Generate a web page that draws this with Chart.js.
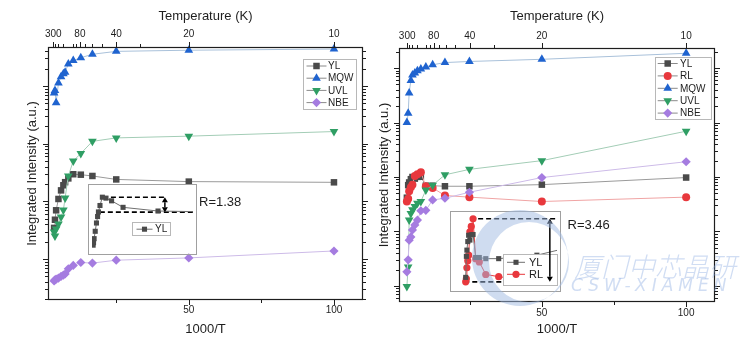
<!DOCTYPE html>
<html>
<head>
<meta charset="utf-8">
<title>Integrated PL intensity vs 1000/T</title>
<script src="https://cdn.jsdelivr.net/npm/chart.js@4.4.1/dist/chart.umd.min.js"></script>
<style>
  html, body { margin: 0; padding: 0; background: #fff; }
  #stage { position: relative; width: 752px; height: 349px; overflow: hidden; }
  #stage canvas { position: absolute; }
  .wm { position: absolute; color: rgba(150, 180, 228, 0.45); white-space: nowrap; pointer-events: none; line-height: 1; }
  #wmCn { left: 574px; top: 246px; font: italic 300 27px "Noto Sans CJK SC"; }
  #wmEn { left: 571px; top: 275px; font: italic 300 17px "DejaVu Sans"; letter-spacing: 5px; }
</style>
</head>
<body>
<div id="stage">
  <canvas id="panelA" width="376" height="349" style="left:0;top:0"></canvas>
  <canvas id="panelB" width="376" height="349" style="left:376px;top:0"></canvas>
  <canvas id="insetA" width="109" height="71" style="left:88px;top:184px"></canvas>
  <canvas id="insetB" width="111" height="81" style="left:450px;top:211px"></canvas>
  <canvas id="logo" width="752" height="349" style="left:0;top:0;pointer-events:none"></canvas>
  <div class="wm" id="wmCn">厦门中芯晶研</div>
  <div class="wm" id="wmEn">CSW-XIAMEN</div>
</div>
<script>
/***********************
 * DATA
 ***********************/
// sample A: 1000/T of each measurement
const invTA = [3.6, 3.9, 4.3, 5.1, 6.0, 6.8, 7.4, 8.5, 10.2, 12.8, 16.8, 25, 50, 100];
const ylA  = [347, 480, 700, 1100, 1550, 1900, 2150, 2500, 2951, 2900, 2754, 2400, 2200, 2138];
const mqwA = [75900, 83200, 51300, 112200, 144500, 162200, 173800, 239900, 275400, 309000, 354800, 398100, 416900, 436500];
const uvlA = [295, 251, 331, 407, 537, 708, 1148, 2754, 5012, 6761, 10965, 12589, 13490, 16218];
const nbeA = [41.7, 43.7, 44.7, 46.8, 50.1, 52.5, 55.0, 67.6, 77.6, 87.1, 85.1, 95.5, 104.7, 138];

// sample B
const invTB = [3.23, 3.68, 4.02, 4.61, 5.16, 5.99, 6.89, 8.07, 9.8, 12.16, 16.42, 24.9, 50, 100];
const ylB  = [417, 708, 794, 912, 1000, 933, 1005, 1010, 692, 692, 676, 676, 724, 977];
const rlB  = [356, 398, 550, 646, 724, 1047, 1122, 1228, 676, 631, 457, 427, 355, 427];
const mqwB = [10000, 14800, 34700, 58900, 74100, 81300, 89100, 95500, 104700, 114800, 125900, 131800, 144500, 186200];
const uvlB = [9.8, 22.4, 162, 214, 251, 288, 331, 355, 575, 708, 1096, 1380, 1995, 6918];
const nbeB = [18.2, 30.2, 69.2, 79.4, 107, 132, 162, 240, 245, 380, 407, 525, 977, 1905];

// axis ticks
const X_MAJOR = [50, 100];
const X_MINOR = [25, 75];
const TEMP_MAJOR = [300, 80, 40, 20, 10];
const TEMP_MINOR = [250, 200, 150, 100, 90, 70, 60, 50, 30];

/***********************
 * STYLE
 ***********************/
const FONT = '"Liberation Sans", Arial, sans-serif';
const INK = '#1e1e1e';
const COL = {
  yl:  { dot: '#4a4a4a', line: '#9a9a9a' },
  rl:  { dot: '#e8383d', line: '#f0a4a4' },
  mqw: { dot: '#1f63cf', line: '#a9c1da' },
  uvl: { dot: '#2f9e64', line: '#a3cdb6' },
  nbe: { dot: '#a57ce0', line: '#cdbbe8' },
};
Chart.defaults.font.family = FONT;
const drawPoint = Chart.helpers.drawPoint;

/***********************
 * Helpers
 ***********************/
function pts(xs, ys) {
  return xs.map((x, i) => ({ x, y: ys[i] }));
}

function series(label, xs, ys, c, style, r, rot) {
  return {
    label,
    data: pts(xs, ys),
    showLine: true,
    borderColor: c.line,
    borderWidth: 1,
    backgroundColor: c.dot,
    pointBackgroundColor: c.dot,
    pointBorderColor: c.dot,
    pointBorderWidth: 0,
    pointStyle: style,
    pointRadius: r,
    pointRotation: rot || 0,
    clip: false,
  };
}

function dashLine(x0, x1, y) {
  return {
    data: [{ x: x0, y }, { x: x1, y }],
    showLine: true,
    borderColor: '#000',
    borderWidth: 1.6,
    borderDash: [5, 3],
    pointRadius: 0,
    noLegend: true,
  };
}

function doubleArrow(ctx, x, y1, y2) {
  const h = 5, w = 3;
  ctx.beginPath();
  ctx.moveTo(x, y1 + h); ctx.lineTo(x, y2 - h);
  ctx.stroke();
  ctx.beginPath();
  ctx.moveTo(x, y1); ctx.lineTo(x - w, y1 + h); ctx.lineTo(x + w, y1 + h); ctx.closePath();
  ctx.moveTo(x, y2); ctx.lineTo(x - w, y2 - h); ctx.lineTo(x + w, y2 - h); ctx.closePath();
  ctx.fill();
}

/***********************
 * Plugins
 ***********************/
// frame + outward tick marks on all four sides
const frameTicks = {
  id: 'frameTicks',
  afterDraw(chart) {
    const { ctx, chartArea: a, scales } = chart;
    const xs = scales.x, ys = scales.y;
    ctx.save();
    ctx.strokeStyle = INK;
    ctx.lineWidth = 1.2;
    ctx.strokeRect(a.left + 0.5, a.top + 0.5, a.right - a.left - 1, a.bottom - a.top - 1);
    ctx.lineWidth = 1;
    ctx.beginPath();
    const lo = Math.floor(Math.log10(ys.min)), hi = Math.ceil(Math.log10(ys.max));
    for (let e = lo; e <= hi; e++) {
      for (let m = 1; m < 10; m++) {
        const v = m * Math.pow(10, e);
        if (v < ys.min || v > ys.max) continue;
        const py = Math.round(ys.getPixelForValue(v)) + 0.5;
        const len = m === 1 ? 5 : 3;
        ctx.moveTo(a.left - len, py); ctx.lineTo(a.left, py);
        ctx.moveTo(a.right, py); ctx.lineTo(a.right + len, py);
      }
    }
    const vx = (v, len) => {
      const px = Math.round(xs.getPixelForValue(v)) + 0.5;
      ctx.moveTo(px, a.bottom); ctx.lineTo(px, a.bottom + len);
    };
    X_MAJOR.forEach((v) => vx(v, 5));
    X_MINOR.forEach((v) => vx(v, 3));
    const tx = (t, len) => {
      const px = Math.round(xs.getPixelForValue(1000 / t)) + 0.5;
      ctx.moveTo(px, a.top); ctx.lineTo(px, a.top - len);
    };
    TEMP_MAJOR.forEach((t) => tx(t, 5));
    TEMP_MINOR.forEach((t) => tx(t, 3));
    ctx.stroke();
    ctx.restore();
  },
};

// boxed legend placed inside the plot
const boxLegend = {
  id: 'boxLegend',
  afterDraw(chart, args, o) {
    if (!o || !o.box) return;
    const ctx = chart.ctx;
    const [x0, y0, w, h] = o.box;
    ctx.save();
    ctx.fillStyle = '#fff';
    ctx.fillRect(x0, y0, w, h);
    ctx.strokeStyle = '#b8b8b8';
    ctx.lineWidth = 1;
    ctx.strokeRect(x0 + 0.5, y0 + 0.5, w, h);
    ctx.font = o.font;
    ctx.textBaseline = 'middle';
    let row = 0;
    chart.data.datasets.forEach((ds) => {
      if (ds.noLegend) return;
      const y = o.y0 + row * o.dy;
      ctx.strokeStyle = o.lineColor || ds.borderColor;
      ctx.lineWidth = 1;
      ctx.beginPath();
      ctx.moveTo(o.mx - o.half, y); ctx.lineTo(o.mx + o.half, y);
      ctx.stroke();
      ctx.fillStyle = ds.pointBackgroundColor;
      ctx.strokeStyle = ds.pointBorderColor;
      drawPoint(ctx, { pointStyle: ds.pointStyle, radius: o.r || ds.pointRadius, rotation: ds.pointRotation, borderWidth: 0 }, o.mx, y);
      ctx.fillStyle = INK;
      ctx.fillText(ds.label, o.tx, y + 0.5);
      row++;
    });
    ctx.restore();
  },
};

// ratio label next to the inset
const note = {
  id: 'note',
  afterDraw(chart, args, o) {
    if (!o || !o.text) return;
    const ctx = chart.ctx;
    ctx.save();
    ctx.font = '13px ' + FONT;
    ctx.fillStyle = INK;
    ctx.textBaseline = 'middle';
    ctx.fillText(o.text, o.x, o.y);
    ctx.restore();
  },
};

// inset frame and double arrow between the dashed levels
const insetDeco = {
  id: 'insetDeco',
  afterDraw(chart, args, o) {
    const { ctx, scales } = chart;
    const w = chart.width, h = chart.height;
    ctx.save();
    ctx.strokeStyle = '#a0a0a0';
    ctx.lineWidth = 1;
    ctx.strokeRect(0.5, 0.5, w - 1, h - 1);
    ctx.strokeStyle = '#000';
    ctx.fillStyle = '#000';
    ctx.lineWidth = 1.5;
    const x = scales.x.getPixelForValue(o.arrowX);
    doubleArrow(ctx, x, scales.y.getPixelForValue(o.hi), scales.y.getPixelForValue(o.lo));
    ctx.restore();
  },
};

/***********************
 * Main panels
 ***********************/
function mainChart(id, datasets, cfg) {
  const xBase = {
    type: 'linear', min: cfg.xMin, max: 110,
    grid: { display: false }, border: { display: false },
  };
  return new Chart(document.getElementById(id), {
    type: 'scatter',
    data: { datasets },
    plugins: [frameTicks, boxLegend, note],
    options: {
      responsive: false,
      animation: false,
      events: [],
      layout: { padding: { right: cfg.padRight } },
      plugins: {
        legend: { display: false },
        tooltip: { enabled: false },
        boxLegend: cfg.legend,
        note: cfg.note,
      },
      scales: {
        x: {
          ...xBase, position: 'bottom',
          afterBuildTicks: (s) => { s.ticks = X_MAJOR.map((v) => ({ value: v })); },
          afterFit: (s) => { s.height = cfg.bottomH; },
          ticks: { autoSkip: false, maxRotation: 0, padding: cfg.bottomPad, color: INK, font: { size: 10 } },
          title: { display: true, text: '1000/T', color: INK, font: { size: 13 }, padding: { top: 0, bottom: 12 } },
        },
        xT: {
          ...xBase, position: 'top',
          afterBuildTicks: (s) => { s.ticks = TEMP_MAJOR.map((t) => ({ value: 1000 / t })); },
          afterFit: (s) => { s.height = cfg.topH; },
          ticks: {
            autoSkip: false, maxRotation: 0, padding: cfg.topPad, color: INK, font: { size: 10 },
            callback: (v) => String(Math.round(1000 / v)),
          },
          title: { display: true, text: 'Temperature (K)', color: INK, font: { size: 13 }, padding: { top: 9, bottom: 0 } },
        },
        y: {
          type: 'logarithmic', position: 'left', min: cfg.yMin, max: cfg.yMax,
          grid: { display: false }, border: { display: false },
          ticks: { display: false },
          afterFit: (s) => { s.width = cfg.leftW; },
          title: { display: true, text: 'Integrated Intensity (a.u.)', color: INK, font: { size: 13 }, padding: { top: cfg.yTitlePad, bottom: 0 } },
        },
      },
    },
  });
}

// later series drawn on top
function stackOrder(list) {
  list.forEach((d, i) => { d.order = list.length - i; });
  return list;
}

const peakA = Math.max(...ylA);
const endA = ylA[ylA.length - 1];
const peakB = Math.max(...rlB);
const lowB = Math.min(...rlB);

mainChart('panelA', stackOrder([
  series('YL', invTA, ylA, COL.yl, 'rect', 4.6),
  series('MQW', invTA, mqwA, COL.mqw, 'triangle', 5),
  series('UVL', invTA, uvlA, COL.uvl, 'triangle', 5, 180),
  series('NBE', invTA, nbeA, COL.nbe, 'rectRot', 4.6),
]), {
  xMin: 1.5, yMin: 19.5, yMax: 4.74e5,
  padRight: 13, bottomH: 49, topH: 47, topPad: -1, bottomPad: -4, leftW: 48, yTitlePad: 25,
  legend: { box: [303, 59, 53, 50], y0: 66, dy: 12.2, mx: 316.5, half: 10, tx: 328, font: '10px ' + FONT, lineColor: '#8a8a8a' },
  note: { text: 'R=' + (peakA / endA).toFixed(2), x: 199, y: 202.5 },
});

mainChart('panelB', stackOrder([
  series('YL', invTB, ylB, COL.yl, 'rect', 4.6),
  series('RL', invTB, rlB, COL.rl, 'circle', 4),
  series('MQW', invTB, mqwB, COL.mqw, 'triangle', 5),
  series('UVL', invTB, uvlB, COL.uvl, 'triangle', 5, 180),
  series('NBE', invTB, nbeB, COL.nbe, 'rectRot', 4.6),
]), {
  xMin: 0.5, yMin: 5.08, yMax: 2.33e5,
  padRight: 37, bottomH: 47, topH: 48, topPad: -2, bottomPad: -3, leftW: 23, yTitlePad: 1,
  legend: { box: [279, 57, 56, 62], y0: 63.5, dy: 12.4, mx: 291.7, half: 10, tx: 304, font: '10px ' + FONT, lineColor: '#8a8a8a' },
  note: { text: 'R=' + (peakB / lowB).toFixed(2), x: 191.5, y: 225 },
});

/***********************
 * Insets (linear intensity, zoom on the low-T region)
 ***********************/
function insetChart(id, datasets, cfg) {
  return new Chart(document.getElementById(id), {
    type: 'scatter',
    data: { datasets },
    plugins: [boxLegend, insetDeco],
    options: {
      responsive: false,
      animation: false,
      events: [],
      layout: { padding: 0 },
      plugins: {
        legend: { display: false },
        tooltip: { enabled: false },
        boxLegend: cfg.legend,
        insetDeco: cfg.deco,
      },
      scales: {
        x: { type: 'linear', min: cfg.x[0], max: cfg.x[1], display: false },
        y: { type: 'linear', min: cfg.y[0], max: cfg.y[1], display: false },
      },
    },
  });
}

function insetSeries(label, xs, ys, dot, line, style) {
  return {
    label,
    data: pts(xs, ys),
    showLine: true,
    borderColor: line,
    borderWidth: 1,
    pointBackgroundColor: dot,
    pointBorderColor: dot,
    pointBorderWidth: 0,
    pointStyle: style,
    pointRadius: 3.6,
  };
}

insetChart('insetA', [
  insetSeries('YL', invTA, ylA, '#4a4a4a', '#707070', 'rect'),
  dashLine(10.6, 54.9, peakA),
  dashLine(8.4, 75, endA),
], {
  x: [2.8, 75], y: [30, 3450],
  legend: { box: [44, 38, 38, 13], y0: 45.2, dy: 12, mx: 56.5, half: 8, tx: 67, font: '10px ' + FONT, lineColor: '#707070' },
  deco: { arrowX: 54.9, hi: peakA, lo: endA },
});

insetChart('insetB', [
  insetSeries('YL', invTB, ylB, '#4a4a4a', '#707070', 'rect'),
  insetSeries('RL', invTB, rlB, '#e8383d', '#e8383d', 'circle'),
  dashLine(11.4, 63.2, peakB),
  dashLine(2.3, 63.2, lowB),
], {
  x: [-4.45, 63.2], y: [270, 1280],
  legend: { box: [53, 43, 54, 31], y0: 51.3, dy: 12, mx: 66, half: 9, tx: 79, font: '11px ' + FONT },
  deco: { arrowX: 58.5, hi: peakB, lo: lowB },
});

/***********************
 * Logo mark
 ***********************/
const lg = document.getElementById('logo').getContext('2d');
lg.fillStyle = 'rgba(160, 186, 226, 0.5)';
lg.beginPath();
lg.arc(520, 258, 48, 0, Math.PI * 2);
lg.moveTo(529 + 40, 262);
lg.arc(529, 262, 40, 0, Math.PI * 2);
lg.fill('evenodd');
</script>
</body>
</html>
